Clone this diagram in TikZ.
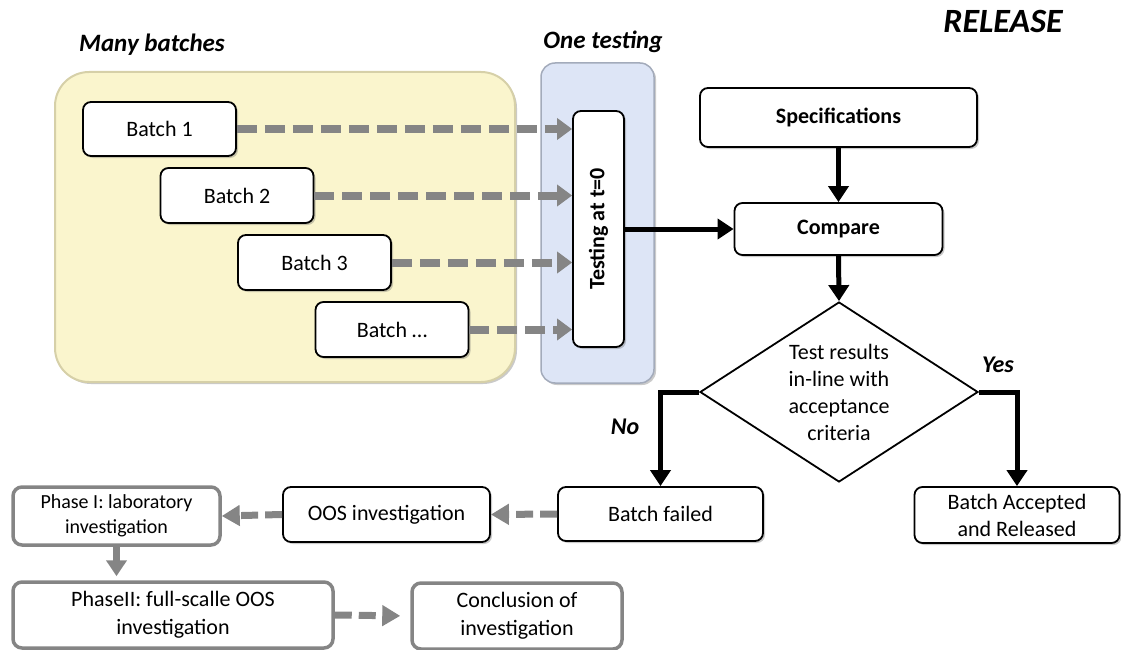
\documentclass[tikz,border=0pt]{standalone}
\usepackage{fontspec}
\setmainfont{Carlito}
\usetikzlibrary{arrows.meta,shapes.geometric,shadows}
\definecolor{lotfill}{HTML}{FAF5CD}
\definecolor{lotedge}{HTML}{D6D0A8}
\definecolor{testfill}{HTML}{DDE5F6}
\definecolor{testedge}{HTML}{A3ABBB}
\definecolor{flowgray}{HTML}{858585}
\begin{document}
\begin{tikzpicture}[x=1pt,y=-1pt,
  txt/.style={font=\fontsize{22}{27}\selectfont},
  boldtxt/.style={font=\fontsize{22}{27}\selectfont\bfseries},
  smalltxt/.style={font=\fontsize{20}{25}\selectfont},
  heading/.style={font=\fontsize{25}{28}\selectfont\bfseries\itshape},
  branch/.style={font=\fontsize{24}{28}\selectfont\bfseries\itshape},
  soft/.style={drop shadow={shadow xshift=2pt,shadow yshift=-2pt,opacity=0.35,fill=black!60}},
  box/.style={txt,draw=black,line width=1.8pt,rounded corners=8pt,fill=white,align=center,inner sep=0pt,soft},
  graybox/.style={font=\fontsize{22}{28}\selectfont,draw=flowgray,line width=3.5pt,rounded corners=9pt,fill=white,align=center,inner sep=0pt},
  grayflow/.style={draw=flowgray,line width=8pt,dash pattern=on 20pt off 8pt,-{Triangle[length=15pt,width=21pt]}},
  grayflowsm/.style={draw=flowgray,line width=7pt,dash pattern=on 17pt off 7pt,-{Triangle[length=18pt,width=20pt]}},
  grayflowsolid/.style={draw=flowgray,line width=7pt,-{Triangle[length=16pt,width=20pt]}},
  blackflow/.style={draw=black,line width=5pt,-{Triangle[length=16pt,width=20pt]}}
]
\useasboundingbox (0,0) rectangle (1121,650);

% group frames
\node[draw=lotedge,line width=2pt,fill=lotfill,rounded corners=34pt,minimum width=460pt,minimum height=310pt,soft] (lots) at (285,227) {};
\node[draw=testedge,line width=1.5pt,fill=testfill,rounded corners=14pt,minimum width=113pt,minimum height=320pt,soft] (testgrp) at (597.5,223) {};

% headings
\node[heading] (hmany) at (152,45) {Many batches};
\node[heading] (hone) at (603,42) {One testing};
\node[font=\fontsize{34}{38}\selectfont\bfseries\itshape] (hrel) at (1003,21) {RELEASE};

% batches
\node[box,minimum width=153pt,minimum height=54pt] (b1) at (159.5,129) {Batch 1};
\node[box,minimum width=153pt,minimum height=55pt] (b2) at (237,195.5) {Batch 2};
\node[box,minimum width=153pt,minimum height=55pt] (b3) at (314.5,262.5) {Batch 3};
\node[box,minimum width=153pt,minimum height=55pt] (b4) at (392,329.5) {Batch \dots};

% testing
\node[box,minimum width=51pt,minimum height=236pt] (test) at (598.5,229) {};
\node[boldtxt,rotate=90] (testlbl) at (test) {Testing at t=0};

% release decision
\node[box,boldtxt,minimum width=277pt,minimum height=59pt] (spec) at (838.5,117.5) {Specifications};
\node[box,boldtxt,minimum width=208pt,minimum height=52pt] (cmp) at (838.5,229) {Compare};
\node[diamond,draw=black,line width=1.8pt,fill=white,txt,align=center,inner sep=0pt,aspect=1.55,minimum width=278pt,minimum height=180pt] (dia) at (839,392) {Test results\\in-line with\\acceptance\\criteria};

\node[box,minimum width=205pt,minimum height=54pt] (fail) at (660.5,514) {Batch failed};
\node[box,minimum width=205pt,minimum height=56pt] (acc) at (1017,515) {Batch Accepted\\and Released};
\node[branch] (lno) at (625,427) {No};
\node[branch] (lyes) at (998,365) {Yes};

% investigation
\node[box,minimum width=207pt,minimum height=55pt] (oos) at (386.5,514.5) {OOS investigation};
\node[graybox,smalltxt,minimum width=207pt,minimum height=58pt] (ph1) at (116.5,516) {Phase I: laboratory\\investigation};
\node[graybox,minimum width=320pt,minimum height=66pt] (ph2) at (173,615) {PhaseII: full-scalle OOS\\investigation};
\node[graybox,minimum width=210pt,minimum height=66pt] (concl) at (517,616) {Conclusion of\\investigation};

% connectors
\draw[grayflow] (b1.east) -- (b1.east -| test.west);
\draw[grayflow] (b2.east) -- (b2.east -| test.west);
\draw[grayflow] (b3.east) -- (b3.east -| test.west);
\draw[grayflow] (b4.east) -- (b4.east -| test.west);

\draw[blackflow] (test.east) -- (cmp.west);
\draw[blackflow] (spec.south) -- (cmp.north);
\draw[blackflow] (cmp.south) -- (dia.north);
\draw[blackflow] (dia.west) -| (fail.north);
\draw[blackflow] (dia.east) -| (acc.north);

\draw[grayflowsm] (fail.west) -- (oos.east);
\draw[grayflowsm] (oos.west) -- (ph1.east);
\draw[grayflowsolid,shorten >=4pt] (ph1.south) -- (ph1.south |- ph2.north);
\draw[grayflowsm,shorten >=10pt] (ph2.east) -- (concl.west);
\end{tikzpicture}
\end{document}
